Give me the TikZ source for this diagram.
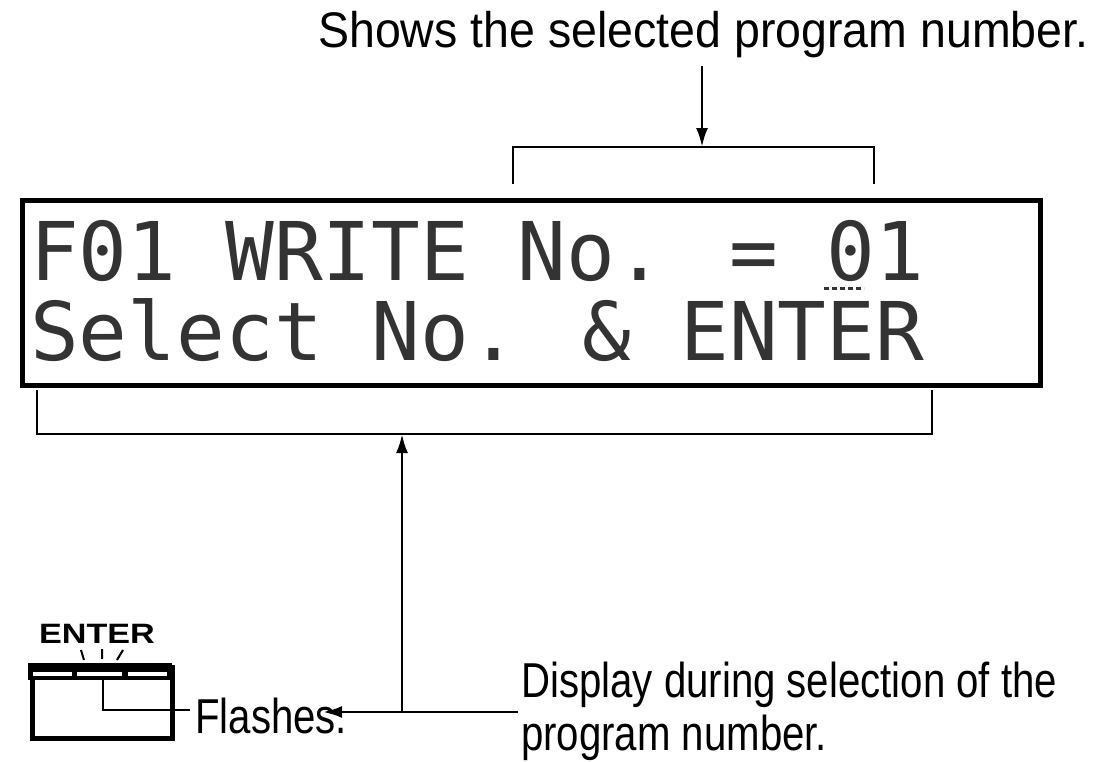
\documentclass[tikz,border=0pt]{standalone}
\usepackage{fontspec}
\setmainfont{Liberation Sans}
\newfontfamily\lblfont{Liberation Sans}[FakeStretch=0.82]
\newfontfamily\topfont{Liberation Sans}[FakeStretch=0.93]
\newfontfamily\lcdfont{DejaVu Sans Mono}
\usetikzlibrary{arrows.meta}
\tikzset{
  lbl/.style={inner sep=0pt, font=\lblfont\fontsize{49}{53}\selectfont, align=left},
  toplbl/.style={inner sep=0pt, font=\topfont\fontsize{50}{54}\selectfont},
  lcdtext/.style={inner sep=0pt, anchor=base west, font=\lcdfont\fontsize{81}{81}\selectfont, text=black!80},
  conn/.style={line width=2.8pt},
  arr/.style={line width=2.8pt, -{Latex[length=19pt,width=12pt]}},
  thickbox/.style={draw, line width=5pt, inner sep=0pt}
}
\begin{document}
\begin{tikzpicture}[x=1pt,y=-1pt]
\useasboundingbox (0,0) rectangle (1120,761);
% top label and bracket
\node[toplbl, anchor=base west] (top) at (318,47) {Shows the selected program number.};
\coordinate (ta) at (702,66);
\coordinate (tbl) at (513,184);
\coordinate (tbm) at (702,147);
\coordinate (tbr) at (874,184);
\draw[conn] (tbl) |- (tbr |- tbm) -- (tbr);
\draw[arr] (ta) -- (tbm);
% display
\node[thickbox, minimum width=1018pt, minimum height=185pt, anchor=north west] (lcd) at (20,198) {};
\node[lcdtext] (l1) at (30,280) {F01 WRITE No. = 01};
\node[lcdtext] (l2) at (30,360) {Select No. \& ENTER};
\coordinate (cur1) at (824,288);
\coordinate (cur2) at (864,288);
\draw[line width=3pt, dash pattern=on 5pt off 3pt, black!80] (cur1) -- (cur2);
% bottom bracket
\coordinate (bbl) at (37,390);
\coordinate (bbr) at (932,390);
\coordinate (bbm) at (402,434);
\draw[conn] (bbl) |- (bbr |- bbm) -- (bbr);
% bottom labels
\node[lbl, anchor=base west] (disp) at (521,750) {Display during selection of the\\program number.};
\node[lbl, anchor=base west] (fl) at (195,733) {Flashes.};
\coordinate (hr) at (518,712);
\coordinate (hj) at (402,712);
\coordinate (hl) at (323,712);
\draw[arr] (hj) -- (bbm);
\draw[arr] (hr) -- (hl);
% ENTER key
\node[inner sep=0pt, anchor=base, font=\bfseries\fontsize{28}{28}\selectfont] (entl) at (97,643) {\scalebox{1.22}[1]{ENTER}};
\node[thickbox, line width=4.5pt, minimum width=140pt, minimum height=71pt, anchor=north west] (key) at (30,665) {};
\fill (28,663) rectangle (172,680);
\fill[white] (33,672) rectangle (72,676);
\fill[white] (77,672) rectangle (122,676);
\fill[white] (128,672) rectangle (167,676);
\coordinate (k1) at (103,680);
\coordinate (k2) at (103,710);
\coordinate (k3) at (190,710);
\draw[line width=2pt] (k1) -- (k2) -- (k3);
\draw[line width=2pt] (81,650) -- (84,660) (102,649) -- (102,659) (123,650) -- (117,660);
\end{tikzpicture}
\end{document}
